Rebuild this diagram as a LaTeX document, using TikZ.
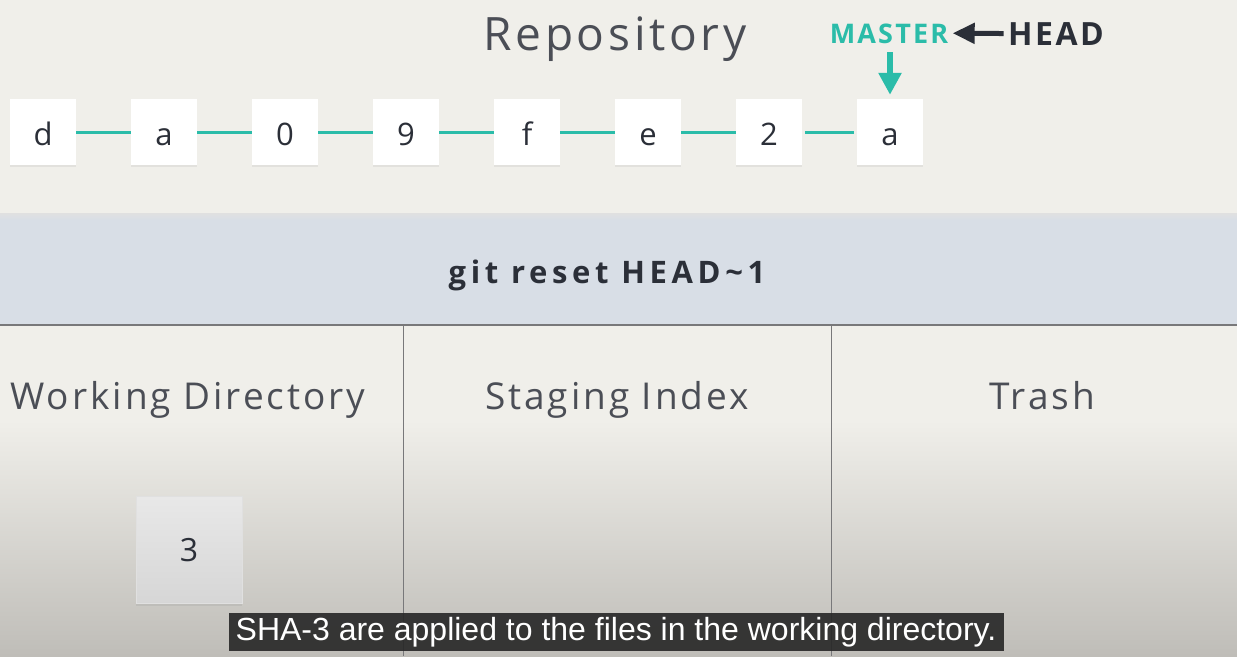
\documentclass[tikz,border=0pt]{standalone}
\usepackage{fontspec}
\setmainfont{Open Sans}
\newfontfamily\lightfont[LetterSpace=8]{Open Sans}
\newfontfamily\tagfont[LetterSpace=8]{Open Sans}
\newfontfamily\cmdfont[LetterSpace=15]{Open Sans}
\newfontfamily\capfont{Liberation Sans}
\usetikzlibrary{arrows.meta,shadows}
\definecolor{paper}{HTML}{F0EFEA}
\definecolor{paperdark}{HTML}{BFBDB8}
\definecolor{band}{HTML}{D8DEE6}
\definecolor{gitteal}{HTML}{2BBCA9}
\definecolor{ink}{HTML}{2B2F38}
\definecolor{rule}{HTML}{78787A}
\tikzset{
  commit/.style={fill=white, minimum size=66pt, inner sep=0pt, text=ink,
    text height=26pt, text depth=0pt, font=\fontsize{31}{31}\selectfont,
    drop shadow={opacity=0.12, shadow xshift=0pt, shadow yshift=-2pt}},
  link/.style={gitteal, line width=3pt, shorten <=3pt, shorten >=3pt},
  area/.style={anchor=base, text=ink!85, font=\lightfont\fontsize{37}{37}\selectfont}
}
\begin{document}
\begin{tikzpicture}[x=1pt,y=-1pt]
  \useasboundingbox (0,0) rectangle (1237,656);
  % backgrounds
  \fill[paper] (0,0) rectangle (1237,420);
  \shade[top color=paper, bottom color=paperdark] (0,420) rectangle (1237,656);
  \fill[band] (0,215) rectangle (1237,325);
  \shade[top color=black!12, bottom color=band] (0,213) rectangle (1237,220);
  \draw[rule, line width=1.5pt] (0,325) -- (1237,325);
  \draw[rule, line width=1pt] (403,325) -- (403,656) (831,325) -- (831,656);
  % repository
  \node[anchor=base, text=ink!85, font=\lightfont\fontsize{46}{46}\selectfont] (repo) at (615,50) {Repository};
  \node[commit] (c1) at (43,132)  {d};
  \node[commit] (c2) at (164,132) {a};
  \node[commit] (c3) at (285,132) {0};
  \node[commit] (c4) at (406,132) {9};
  \node[commit] (c5) at (527,132) {f};
  \node[commit] (c6) at (648,132) {e};
  \node[commit] (c7) at (769,132) {2};
  \node[commit] (c8) at (890,132) {a};
  \draw[link] (c1)--(c2) (c2)--(c3) (c3)--(c4) (c4)--(c5) (c5)--(c6) (c6)--(c7) (c7)--(c8);
  % pointers
  \node[anchor=base, text=gitteal, text depth=0pt, font=\tagfont\bfseries\fontsize{27}{27}\selectfont] (master) at (889,43) {MASTER};
  \node[anchor=base, text=ink, text depth=0pt, font=\tagfont\bfseries\fontsize{32}{32}\selectfont] (head) at (1056,45) {HEAD};
  \coordinate (mtail) at (890,52);
  \draw[ink, line width=5pt, -{Triangle[length=22pt,width=20pt]}, shorten <=1pt, shorten >=1pt] (head.west) -- (master.east);
  \draw[gitteal, line width=6pt, -{Triangle[length=22pt,width=22pt]}, shorten >=4pt] (mtail) -- (c8.north);
  % command
  \node[anchor=base, text=ink, font=\cmdfont\bfseries\fontsize{31}{31}\selectfont] (cmd) at (607,283) {git reset HEAD\textasciitilde1};
  % areas
  \node[area] (wd) at (188,409) {Working Directory};
  \node[area] (si) at (617,409) {Staging Index};
  \node[area] (tr) at (1042,409) {Trash};
  \node[minimum width=106pt, minimum height=107pt, inner sep=0pt, draw=black!12,
    top color=black!9, bottom color=black!16, text=ink, font=\fontsize{32}{32}\selectfont,
    drop shadow={opacity=0.15, shadow xshift=0pt, shadow yshift=-2pt}] (f3) at (189,550) {3};
  % caption
  \node[fill=black!85, fill opacity=0.9, text opacity=1, text=white, inner sep=0pt,
    minimum width=775pt, minimum height=38pt, font=\capfont\fontsize{32}{32}\selectfont] (sub) at (616,632)
    {SHA-3 are applied to the files in the working directory.};
\end{tikzpicture}
\end{document}
